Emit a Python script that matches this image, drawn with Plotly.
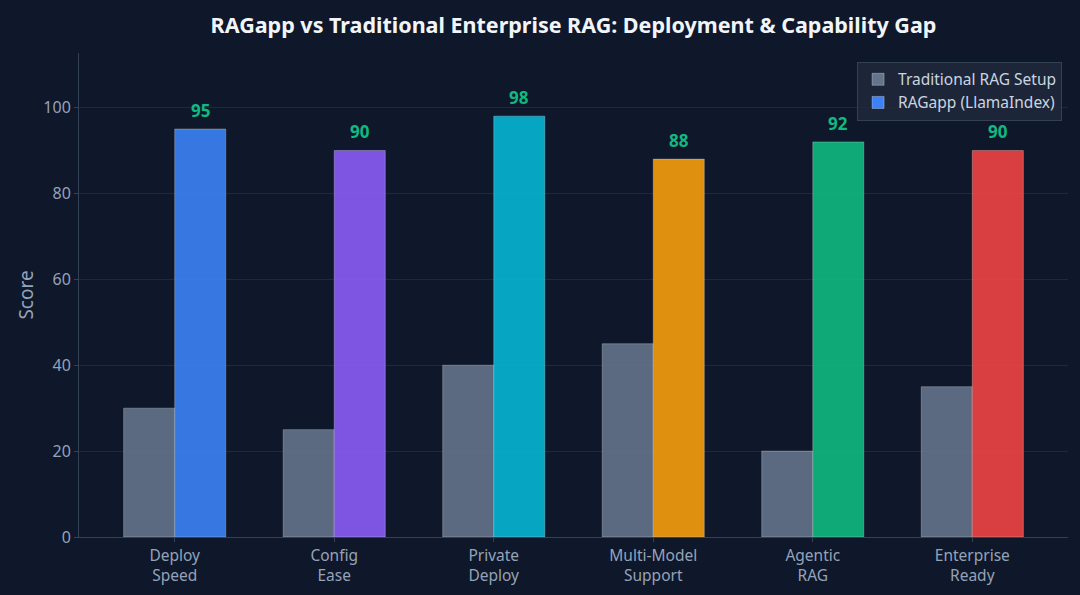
import plotly.graph_objects as go

categories = ["Deploy<br>Speed", "Config<br>Ease", "Private<br>Deploy",
              "Multi-Model<br>Support", "Agentic<br>RAG", "Enterprise<br>Ready"]
traditional = [30, 25, 40, 45, 20, 35]
ragapp = [95, 90, 98, 88, 92, 90]
ragapp_colors = ["#3b82f6", "#8b5cf6", "#06b6d4", "#f59e0b", "#10b981", "#ef4444"]
series_names = ["Traditional RAG Setup", "RAGapp (LlamaIndex)"]
y_ticks = [0, 20, 40, 60, 80, 100]

BG = "#0f172a"
FONT = "Noto Sans"
TICK = "#94a3b8"

fig = go.Figure()
fig.add_trace(go.Bar(
    x=categories, y=traditional, name=series_names[0],
    marker=dict(color="#64748b", opacity=0.9,
                line=dict(color="rgba(255,255,255,0.3)", width=1)),
))
fig.add_trace(go.Bar(
    x=categories, y=ragapp, name=series_names[1],
    marker=dict(color=ragapp_colors, opacity=0.9,
                line=dict(color="rgba(255,255,255,0.3)", width=1)),
))

for i, v in enumerate(ragapp):
    fig.add_annotation(
        x=i + 0.16, y=v, text=f"<b>{v}</b>", showarrow=False,
        yanchor="bottom", yshift=5,
        font=dict(family=FONT, size=17, color="#10b981"),
    )

fig.update_layout(
    width=1080, height=595,
    paper_bgcolor=BG, plot_bgcolor=BG,
    font=dict(family=FONT, color=TICK, size=15),
    margin=dict(l=79, r=12, t=53, b=58),
    barmode="group", bargap=0.36, bargroupgap=0,
    title=dict(text="<b>RAGapp vs Traditional Enterprise RAG: Deployment & Capability Gap</b>",
               x=0.5, xanchor="center", xref="paper", y=0.957, yanchor="middle",
               font=dict(family=FONT, size=21.5, color="#f1f5f9")),
    legend=dict(x=0.994, y=0.982, xanchor="right", yanchor="top",
                bgcolor="rgba(30,41,59,0.85)", bordercolor="#334155", borderwidth=1,
                font=dict(family=FONT, size=15.5, color="#cbd5e1"),
                itemwidth=30, tracegroupgap=2),
    showlegend=True,
)
fig.update_xaxes(
    range=[-0.6, 5.6], showgrid=False, showline=True, linecolor="#334155", linewidth=1,
    ticks="outside", ticklen=4, tickcolor="#334155", automargin=False,
    tickfont=dict(family=FONT, size=15.5, color=TICK), zeroline=False,
)
fig.update_yaxes(
    range=[0, 112.7], tickvals=y_ticks, showgrid=True, gridcolor="rgba(51,65,85,0.45)",
    gridwidth=1, showline=True, linecolor="#334155", linewidth=1, automargin=False,
    ticks="outside", ticklen=4, tickcolor="#334155", zeroline=False,
    tickfont=dict(family=FONT, size=16, color=TICK),
    title=dict(text="Score", font=dict(family=FONT, size=19, color=TICK), standoff=4),
)

fig.write_html("out.html", config={"displayModeBar": False},
               post_script="document.body.style.margin='0';document.body.style.overflow='hidden';")
